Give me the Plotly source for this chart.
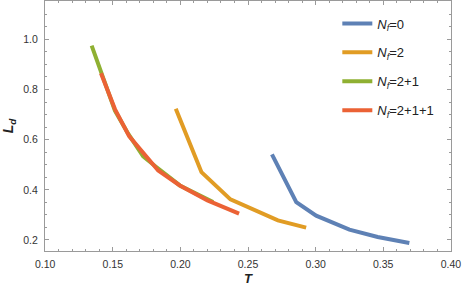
import plotly.graph_objects as go

# Data
nf0_T = [0.2677, 0.2857, 0.3004, 0.325, 0.3459, 0.3693]
nf0_L = [0.541, 0.351, 0.297, 0.241, 0.2116, 0.1877]

nf2_T = [0.1966, 0.2156, 0.237, 0.2721, 0.293]
nf2_L = [0.723, 0.4705, 0.362, 0.278, 0.249]

nf21_T = [0.1344, 0.1516, 0.1615, 0.1725, 0.1824, 0.1996, 0.2242]
nf21_L = [0.975, 0.716, 0.623, 0.533, 0.490, 0.4175, 0.351]

nf211_T = [0.1413, 0.1516, 0.1622, 0.1836, 0.1996, 0.22, 0.2434]
nf211_L = [0.865, 0.722, 0.613, 0.477, 0.4175, 0.358, 0.305]

x_ticks = [0.10, 0.15, 0.20, 0.25, 0.30, 0.35, 0.40]
x_labels = ["0.10", "0.15", "0.20", "0.25", "0.30", "0.35", "0.40"]
y_ticks = [0.2, 0.4, 0.6, 0.8, 1.0]
y_labels = ["0.2", "0.4", "0.6", "0.8", "1.0"]

names = ["<i>N</i><sub><i>f</i></sub>=0", "<i>N</i><sub><i>f</i></sub>=2",
         "<i>N</i><sub><i>f</i></sub>=2+1", "<i>N</i><sub><i>f</i></sub>=2+1+1"]
colors = ["#5E81B5", "#E19C24", "#8FB032", "#EB6235"]

series = [(nf0_T, nf0_L), (nf2_T, nf2_L), (nf21_T, nf21_L), (nf211_T, nf211_L)]

fig = go.Figure()
for i, ((t, l), n, c) in enumerate(zip(series, names, colors)):
    fig.add_trace(go.Scatter(x=t, y=l, mode="lines", name=n, legendgroup=str(i),
                             line=dict(color=c, width=4)))

frame = "#9a9a9a"
fam = "Liberation Sans, Arial, sans-serif"
tickfont = dict(family=fam, size=10.5, color="#333333")
fig.update_xaxes(range=[0.0999, 0.4001], tickmode="array", tickvals=x_ticks, ticktext=x_labels,
                 ticklabeloverflow="allow", ticklabelstandoff=3,
                 showline=True, linecolor=frame, linewidth=1, mirror="allticks",
                 ticks="inside", ticklen=4, tickcolor=frame, tickfont=tickfont,
                 showgrid=False, zeroline=False,
                 minor=dict(tick0=0.1, dtick=0.01, ticks="inside", ticklen=2, tickcolor=frame, showgrid=False),
                 title=dict(text="<b><i>T</i></b>", standoff=5,
                            font=dict(family=fam, size=13, color="#222")))
fig.update_yaxes(range=[0.156, 1.153], tickmode="array", tickvals=y_ticks, ticktext=y_labels,
                 ticklabelstandoff=4,
                 showline=True, linecolor=frame, linewidth=1, mirror="allticks",
                 ticks="inside", ticklen=4, tickcolor=frame, tickfont=tickfont,
                 showgrid=False, zeroline=False,
                 minor=dict(tick0=0.2, dtick=0.05, ticks="inside", ticklen=2, tickcolor=frame, showgrid=False),
                 title=dict(text="<b><i>L</i><sub><i>d</i></sub></b>", standoff=8,
                            font=dict(family=fam, size=14, color="#222")))

fig.update_layout(
    width=463, height=293,
    margin=dict(l=45, r=11.5, t=1, b=42),
    plot_bgcolor="white", paper_bgcolor="white",
    legend=dict(x=0.72, y=0.97, xanchor="left", yanchor="top",
                font=dict(family=fam, size=13, color="#222"),
                tracegroupgap=9, bgcolor="rgba(0,0,0,0)"),
)

fig.write_html("out.html", config={"displayModeBar": False},
               post_script="document.body.style.margin='0';document.body.style.overflow='hidden';")
